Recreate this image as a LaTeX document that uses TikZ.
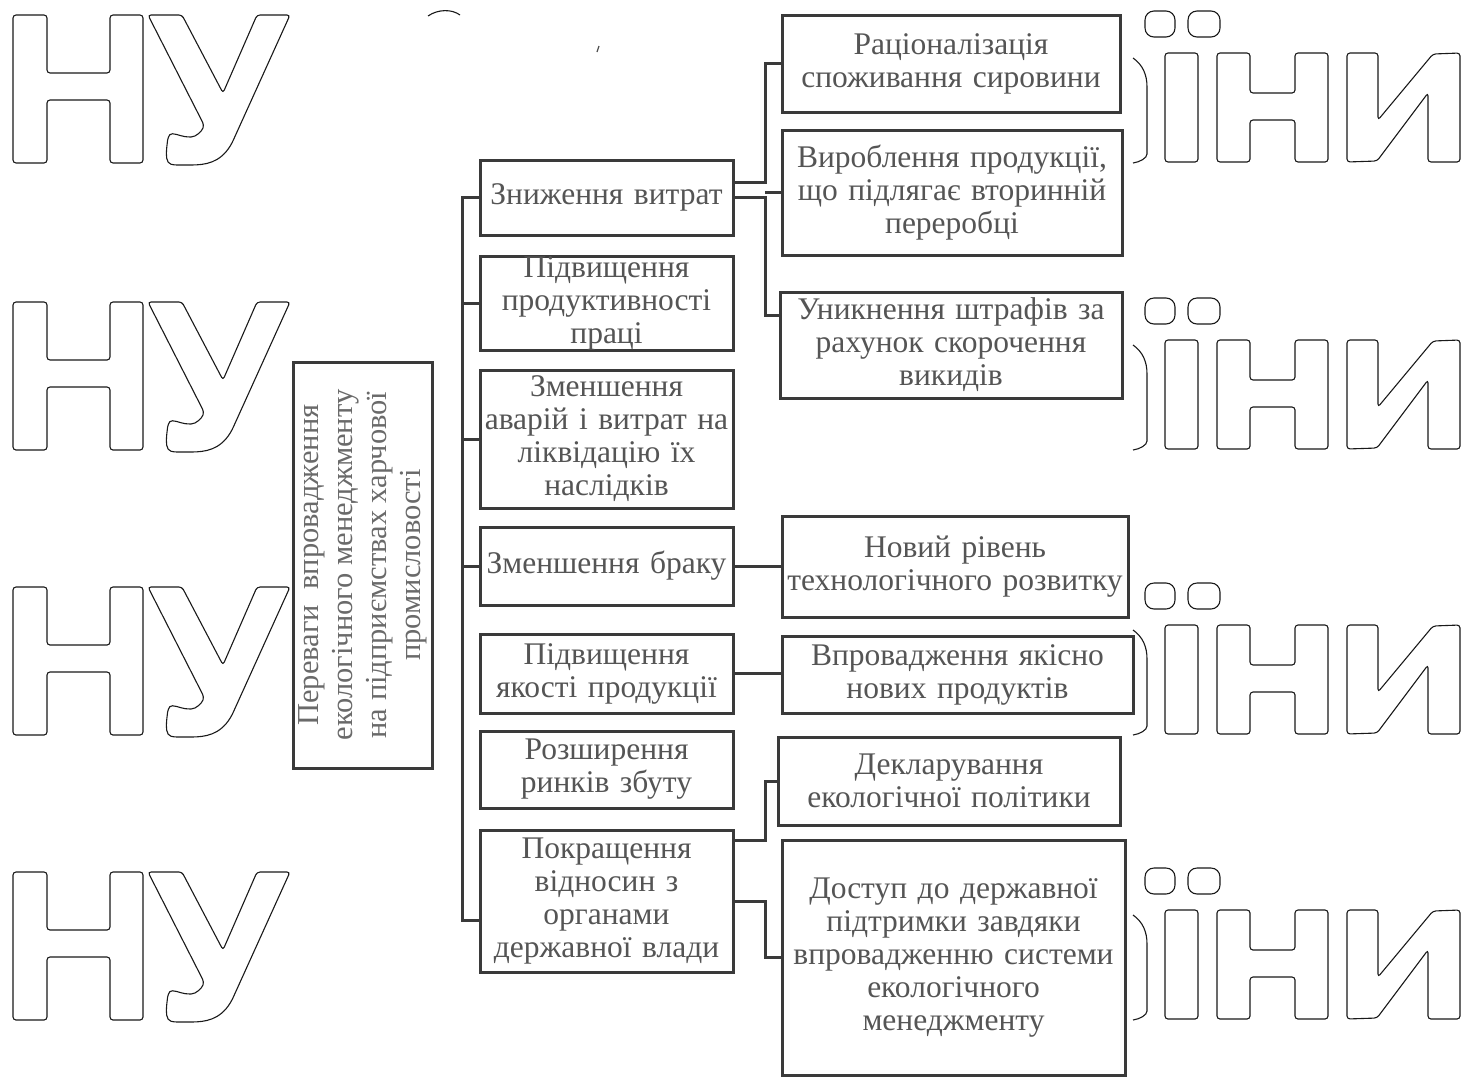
\documentclass[tikz,border=0pt]{standalone}
\usepackage{fontspec}
\setmainfont{Liberation Serif}
\usepackage{graphicx}
\usetikzlibrary{calc}
\definecolor{boxc}{HTML}{3A3A3A}
\definecolor{txtc}{HTML}{555555}
\definecolor{maintxt}{HTML}{6A6A6A}
\definecolor{wmc}{HTML}{1A1A1A}
\newcommand\wmrow[1]{%
\begin{scope}[shift={(0,#1)}]
  % Н
  \draw[wm] (13,0) -- (47,0) -- (47,58) -- (110,58) -- (110,0) -- (143,0) -- (143,148) -- (110,148) -- (110,85) -- (47,85) -- (47,148) -- (13,148) -- cycle;
  % У
  \draw[wm] (148,0) -- (182,0) -- (223,78) -- (257,0) -- (290,0) -- (232,128)
     .. controls (220,148) and (205,150) .. (188,150) -- (174,150)
     .. controls (166,148) and (166,140) .. (167,130) -- (168,122)
     .. controls (172,117) and (180,121) .. (188,122)
     .. controls (196,122) and (202,116) .. (204,110) -- cycle;
  % partial letter
  \draw[wm] (1133,43) .. controls (1143,50) and (1147,60) .. (1147,75) -- (1147,136) .. controls (1147,143) and (1140,147) .. (1133,148);
  % ї
  \draw[wm, rounded corners=9pt] (1145,-4) rectangle (1175,22);
  \draw[wm, rounded corners=9pt] (1188,-4) rectangle (1220,22);
  \draw[wm] (1165,38) rectangle (1198,147);
  % н
  \draw[wm] (1217,38) -- (1250,38) -- (1250,78) -- (1295,78) -- (1295,38) -- (1328,38) -- (1328,147) -- (1295,147) -- (1295,105) -- (1250,105) -- (1250,147) -- (1217,147) -- cycle;
  % и
  \draw[wm] (1347,147) -- (1347,38) -- (1378,38) -- (1378,105) -- (1433,39) -- (1460,38) -- (1460,147) -- (1428,147) -- (1428,78) -- (1377,146) -- cycle;
\end{scope}}
\begin{document}
\begin{tikzpicture}[x=1pt,y=-1pt,
  box/.style={draw=boxc, line width=3pt, fill=white, inner sep=0pt, align=center,
              text=txtc, font=\fontsize{31.5}{33}\selectfont},
  conn/.style={draw=boxc, line width=3pt},
  wm/.style={draw=wmc, line width=1.1pt, rounded corners=3pt}]
\useasboundingbox[fill=white] (0,0) rectangle (1478,1077);

% watermark
\wmrow{15}
\wmrow{302}
\wmrow{587}
\wmrow{872}
\draw[wm] (428,16) .. controls (438,9) and (452,9) .. (460,15);
\draw[draw=black!70, line width=1.2pt] (597,52) -- (599,46);

% main box
\node[box, minimum width=139pt, minimum height=406pt] (main) at (362.5,565)
  {\rotatebox{90}{\parbox{400pt}{\centering\color{maintxt}\fontsize{30.5}{34}\selectfont
   Переваги\ \ впровадження\\ екологічного менеджменту\\ на підприємствах харчової\\ промисловості}}};

% left column
\node[box, minimum width=253pt, minimum height=75pt, text width=249pt] (L1) at (606.5,197.5) {Зниження витрат};
\node[box, minimum width=253pt, minimum height=94pt, text width=249pt] (L2) at (606.5,303) {Підвищення\\ продуктивності\\ праці};
\node[box, minimum width=253pt, minimum height=138pt, text width=249pt] (L3) at (606.5,439) {Зменшення\\ аварій і витрат на\\ ліквідацію їх\\ наслідків};
\node[box, minimum width=253pt, minimum height=78pt, text width=249pt] (L4) at (606.5,566) {Зменшення браку};
\node[box, minimum width=253pt, minimum height=79pt, text width=249pt] (L5) at (606.5,673.5) {Підвищення\\ якості продукції};
\node[box, minimum width=253pt, minimum height=77pt, text width=249pt] (L6) at (606.5,769.5) {Розширення\\ ринків збуту};
\node[box, minimum width=253pt, minimum height=142pt, text width=249pt] (L7) at (606.5,901) {Покращення\\ відносин з\\ органами\\ державної влади};

% right column
\node[box, minimum width=338pt, minimum height=97pt, text width=334pt] (R1) at (951,63.5) {Раціоналізація\\ споживання сировини};
\node[box, minimum width=340pt, minimum height=125pt, text width=336pt] (R2) at (952,192.5) {Вироблення продукції,\\ що підлягає вторинній\\ переробці};
\node[box, minimum width=342pt, minimum height=106pt, text width=338pt] (R3) at (951,345) {Уникнення штрафів за\\ рахунок скорочення\\ викидів};
\node[box, minimum width=346pt, minimum height=101pt, text width=342pt] (R4) at (955,566.5) {Новий рівень\\ технологічного розвитку};
\node[box, minimum width=351pt, minimum height=77pt, text width=347pt] (R5) at (957.5,674.5) {Впровадження якісно\\ нових продуктів};
\node[box, minimum width=342pt, minimum height=88pt, text width=338pt] (R6) at (949,781) {Декларування\\ екологічної політики};
\node[box, minimum width=343pt, minimum height=235pt, text width=339pt] (R7) at (953.5,957.5) {Доступ до державної\\ підтримки завдяки\\ впровадженню системи\\ екологічного\\ менеджменту};

% bus coordinates
\coordinate (bus) at (462,0);
\coordinate (busbot) at (462,920);
\coordinate (ja) at (765,0);

% main to bus (double line)
\draw[conn, line width=2.5pt] ($(main.east)+(0,-17)$) -- ($(main.east)+(0,-17)$ -| bus);
\draw[conn, line width=2.5pt] ($(main.east)+(0,-3)$) -- ($(main.east)+(0,-3)$ -| bus);

% bus and ticks
\draw[conn] (L1.west) -| (busbot) -- ($(L7.west)+(0,19)$);
\draw[conn] (L2.west) -- (L2.west -| bus);
\draw[conn] (L3.west) -- (L3.west -| bus);
\draw[conn] (L4.west) -- (L4.west -| bus);
\draw[conn] ($(L5.west)+(0,11)$) -- ($(L5.west)+(0,11)$ -| bus);
\draw[conn] ($(L6.west)+(0,33)$) -- ($(L6.west)+(0,33)$ -| bus);

% right connectors
\draw[conn] ($(L1.east)+(0,-15)$) -| (ja |- R1.west) -- (R1.west);
\draw[conn] (L1.east) -- (L1.east -| ja) |- ($(R3.west)+(0,-30)$);
\draw[conn] (R2.west) -- (R2.west -| ja);
\draw[conn] (L4.east) -- (L4.east -| R4.west);
\draw[conn] (L5.east) -- (L5.east -| R5.west);
\draw[conn] ($(L7.east)+(0,-61)$) -| (ja |- R6.west) -- (R6.west);
\draw[conn] (L7.east) -| (ja |- R7.west) -- (R7.west);
\end{tikzpicture}
\end{document}
